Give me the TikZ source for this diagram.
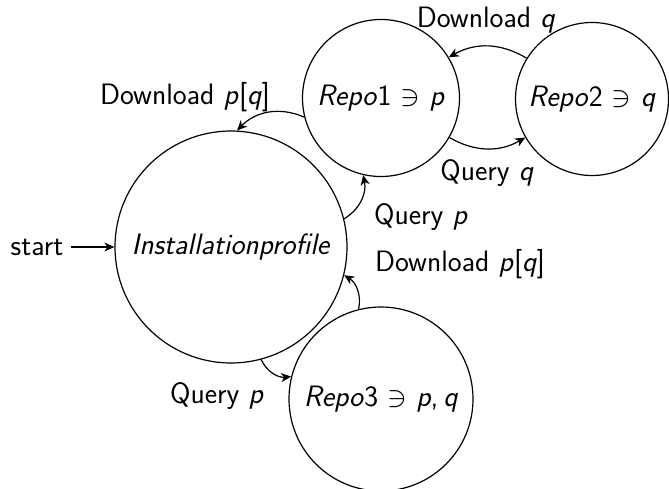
\RequirePackage{fix-cm}
\documentclass[tikz,border=0pt]{standalone}
\usetikzlibrary{arrows.meta}
\begin{document}
\begin{tikzpicture}[x=1pt,y=-1pt,
  every node/.style={font=\fontsize{29.5}{34}\selectfont\sffamily},
  state/.style={draw,circle,line width=1.2pt,inner sep=0pt},
  edge/.style={line width=1.2pt,-{Stealth[length=10pt,width=9pt,inset=3pt]}},
  lbl/.style={inner sep=0pt}]
\useasboundingbox (0,0) rectangle (669,488);
% states
\node[state,minimum size=232pt] (ip) at (231,247) {\textit{Installationprofile}};
\node[state,minimum size=157pt] (r1) at (381,98) {\textit{Repo}1 $\ni$ \textit{p}};
\node[state,minimum size=153pt] (r2) at (592,99) {\textit{Repo}2 $\ni$ \textit{q}};
\node[state,minimum size=184pt] (r3) at (381,399) {\textit{Repo}3 $\ni$ \textit{p},\,\textit{q}};
% initial marker
\node[lbl] (st) at (37,247) {start};
\draw[edge] (st.east) ++(7,0) coordinate (st0) (st0) -- (ip.west);
% transitions
\draw[edge] (r1.194) to[bend right=35] (ip.87);
\draw[edge] (ip.14) to[bend right=35] (r1.257);
\draw[edge] (r3.104) to[bend right=35] (ip.346);
\draw[edge] (ip.285) to[bend right=35] (r3.166);
\draw[edge] (r2.148) to[bend right=30] (r1.31);
\draw[edge] (r1.330) to[bend right=30] (r2.210);
% labels
\node[lbl] (l1) at (185,97) {Download \textit{p}[\textit{q}]};
\node[lbl] (l2) at (421,217) {Query \textit{p}};
\node[lbl] (l3) at (460,264) {Download \textit{p}[\textit{q}]};
\node[lbl] (l4) at (217,396) {Query \textit{p}};
\node[lbl] (l5) at (486,20) {Download \textit{q}};
\node[lbl] (l6) at (487,173) {Query \textit{q}};
\end{tikzpicture}
\end{document}
